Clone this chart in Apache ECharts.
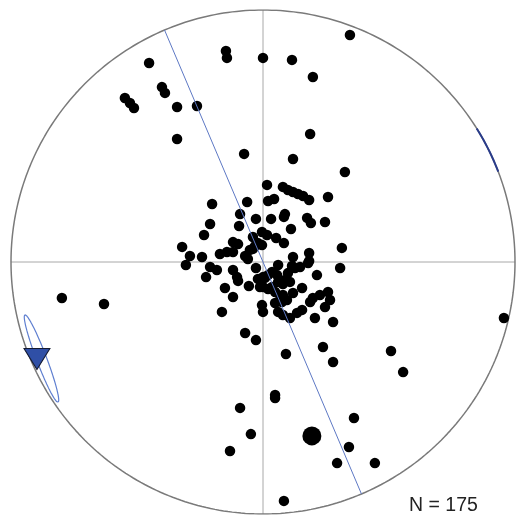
<!DOCTYPE html>
<html>
<head>
<meta charset="utf-8">
<script src="https://cdn.jsdelivr.net/npm/echarts@6/dist/echarts.min.js"></script>
<style>
  html, body { margin: 0; padding: 0; background: #ffffff; }
  #chart { width: 517px; height: 515px; }
</style>
</head>
<body>
<div id="chart"></div>
<script>
// Lower-hemisphere net, coordinates in percent of the primitive radius (east, north).
const poleEast = [
  -45.2, -14.7, -14.3, -40.1, -38.9, -54.8, -52.8, -51.2, -34.1, -26.2,
  -34.1, -7.5, 34.5, 0.0, 11.5, 19.8, 18.7, 11.9, 32.5, -79.8,
  -63.1, 95.6, 50.8, 55.6, 4.8, 4.8, 36.1, 34.1, 29.4, 44.4,
  8.3, -9.1, -4.8, -13.1, 23.8, 27.8, 9.1, -7.1, -2.8, -16.3,
  1.6, 7.9, 9.9, 11.9, 13.9, 15.9, 18.3, 25.8, 2.0, 4.4,
  3.2, 8.3, 8.7, 17.5, 19.0, 24.6, 11.1, -20.2, -6.3, -9.1,
  -2.8, -21.0, -9.5, -23.4, -4.0, -0.4, 1.6, 5.2, 8.3, -9.9,
  -11.9, -32.1, -29.0, -24.2, -17.1, -14.3, -11.9, -5.2, -3.2, -2.0,
  -7.1, -6.0, -4.0, 31.3, 11.9, 18.3, 18.3, -0.4,
  -30.6, -21.0, -18.3, -22.6, -11.9, -10.3, -9.9, -2.8, -2.0, 0.0,
  -5.6, -15.1, -11.9, 0.0, -0.4, 0.0, 6.0, 11.5, 17.9, 30.6,
  21.4, 2.0, 3.6, 5.6, 9.9, 12.7, 14.7, 8.7, 6.0, 7.9,
  10.7, 0.8, -1.2, 3.6, 2.0, 4.8, 7.9, 6.7, 11.9, 15.5,
  25.8, 22.6, 19.8, 18.7, 26.6, 24.6, 4.8, 7.5, 9.5, 15.5,
  13.5, 6.0, 7.9, 10.7, 20.6, 27.8
];
const poleNorth = [
  79.0, 83.7, 81.0, 69.4, 67.1, 65.1, 63.1, 61.1, 61.5, 61.9,
  48.8, 42.9, 90.1, 81.0, 80.2, 73.4, 50.8, 40.9, 35.7, -14.3,
  -16.7, -22.2, -35.3, -43.7, -52.8, -54.0, -61.9, -73.4, -79.8, -79.8,
  -94.8, -57.9, -68.3, -75.0, -33.7, -39.7, -36.5, -28.2, -31.0, -19.8,
  30.6, 29.8, 28.6, 27.8, 27.0, 26.2, 24.6, 25.8, 24.2, 25.0,
  17.1, 17.9, 19.0, 17.5, 15.5, 15.9, 13.1, 23.0, 23.8, 19.0,
  17.1, 15.1, 14.3, 10.7, 9.9, 11.9, 10.7, 9.5, 7.5, 7.1,
  7.9, 6.0, 2.4, 2.0, 3.2, 4.0, 4.0, 4.8, 6.3, 7.5,
  2.4, 1.2, 5.2, 5.6, 2.0, 3.6, 0.4, 6.7,
  -1.2, -2.0, -3.2, -6.0, -3.2, -6.0, -7.5, -2.4, -6.7, -6.0,
  -9.5, -10.3, -13.9, -9.9, -17.1, -19.8, -1.2, -1.6, -0.4, -2.4,
  -5.2, -5.2, -4.0, -5.2, -4.4, -2.4, -2.0, -7.1, -7.9, -8.7,
  -7.9, -6.3, -9.9, -9.9, -10.7, -11.9, -13.1, -15.1, -12.3, -10.3,
  -11.9, -13.1, -14.3, -15.9, -15.1, -17.9, -16.3, -15.9, -15.1, -19.0,
  -20.2, -19.8, -21.0, -22.2, -22.2, -23.8
];

// Mean vector (large dot)
const meanPole = [19.4, -69.0];

// Cone of confidence around the triangle direction
const coneCenter = [-87.9, -38.3];
const coneSemiMajor = 18.5;
const coneSemiMinor = 2.0;
const coneRotationDeg = -69.2;
const coneWrapAzimuth = [58, 69];   // antipodal part on the primitive
const trianglePole = [-89.7, -38.5];

// Vertical great circle strike (degrees)
const greatCircleStrike = 157;

const sampleCount = 175;
const R = 100;

const toRad = d => d * Math.PI / 180;
const onPrimitive = az => [R * Math.sin(toRad(az)), R * Math.cos(toRad(az))];

const primitive = [];
for (let a = 0; a <= 360; a += 1) primitive.push(onPrimitive(a));

const wrapArc = [];
for (let a = coneWrapAzimuth[0]; a <= coneWrapAzimuth[1]; a += 0.5) wrapArc.push(onPrimitive(a));

const cone = [];
const rot = toRad(coneRotationDeg);
for (let t = 0; t <= 360; t += 3) {
  const u = coneSemiMajor * Math.cos(toRad(t));
  const v = coneSemiMinor * Math.sin(toRad(t));
  cone.push([
    coneCenter[0] + u * Math.cos(rot) - v * Math.sin(rot),
    coneCenter[1] + u * Math.sin(rot) + v * Math.cos(rot)
  ]);
}

const poles = poleEast.map((e, i) => [e, poleNorth[i]]);

const chart = echarts.init(document.getElementById('chart'), null, { renderer: 'canvas' });

const lineBase = { type: 'line', showSymbol: false, symbol: 'none', silent: true, animation: false };

chart.setOption({
  animation: false,
  grid: { left: 11, top: 10, width: 504, height: 504 },
  xAxis: { type: 'value', min: -R, max: R, show: false },
  yAxis: { type: 'value', min: -R, max: R, show: false },
  series: [
    Object.assign({}, lineBase, {
      data: [[-R, 0], [R, 0]],
      lineStyle: { color: '#a8a8a8', width: 1 }, z: 1
    }),
    Object.assign({}, lineBase, {
      data: [[0, -R], [0, R]],
      lineStyle: { color: '#a8a8a8', width: 1 }, z: 1
    }),
    Object.assign({}, lineBase, {
      data: primitive,
      lineStyle: { color: '#7a7a7a', width: 1.5 }, z: 2
    }),
    {
      type: 'scatter',
      data: poles,
      symbol: 'circle',
      symbolSize: 10.5,
      itemStyle: { color: '#000000', opacity: 1 },
      silent: true, z: 3
    },
    {
      type: 'scatter',
      data: [meanPole],
      symbol: 'circle',
      symbolSize: 19,
      itemStyle: { color: '#000000', opacity: 1 },
      silent: true, z: 3
    },
    Object.assign({}, lineBase, {
      data: [onPrimitive(greatCircleStrike + 180), [0, 0], onPrimitive(greatCircleStrike)],
      lineStyle: { color: '#5d78c4', width: 1 }, z: 4
    }),
    Object.assign({}, lineBase, {
      data: cone,
      smooth: true,
      lineStyle: { color: '#5f7fd0', width: 1.2 }, z: 4
    }),
    Object.assign({}, lineBase, {
      data: wrapArc,
      lineStyle: { color: '#2a3c8a', width: 2 }, z: 4
    }),
    {
      type: 'scatter',
      data: [trianglePole],
      symbol: 'triangle',
      symbolRotate: 180,
      symbolSize: [26, 21],
      itemStyle: { color: '#2f4fa6', borderColor: '#141a30', borderWidth: 1, opacity: 1 },
      silent: true, z: 5
    }
  ],
  graphic: [{
    type: 'text',
    left: 409,
    top: 496,
    style: {
      text: 'N = ' + sampleCount,
      font: '19.5px "Liberation Sans", Arial, sans-serif',
      fill: '#222222'
    },
    z: 10
  }]
});
</script>
</body>
</html>
